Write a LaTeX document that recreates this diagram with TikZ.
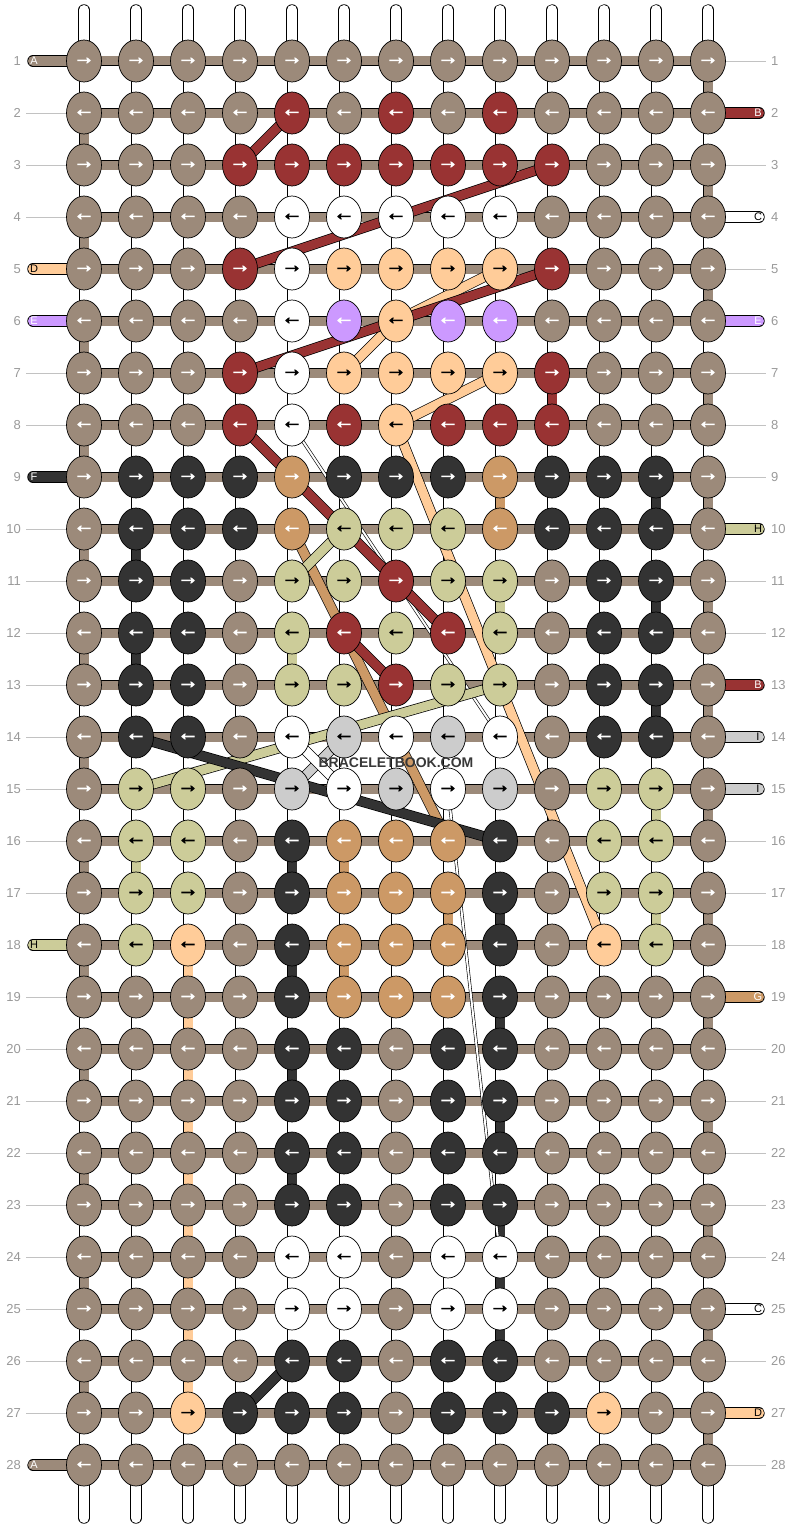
\documentclass[tikz,border=0pt]{standalone}
\usepackage{fontspec}
\setmainfont{Liberation Sans}
\newfontfamily\fontsageata[FakeBold=3]{Liberation Sans}
\usepackage{tikz}
\usetikzlibrary{shapes.geometric, backgrounds}

\definecolor{cb}{HTML}{9C8A7A}
\definecolor{cr}{HTML}{993333}
\definecolor{cw}{HTML}{FFFFFF}
\definecolor{cp}{HTML}{FFCC99}
\definecolor{cl}{HTML}{CC99FF}
\definecolor{ck}{HTML}{333333}
\definecolor{ct}{HTML}{CC9966}
\definecolor{ch}{HTML}{CCCC99}
\definecolor{cg}{HTML}{CCCCCC}
\colorlet{sb}{white}
\colorlet{sr}{white}
\colorlet{sk}{white}
\colorlet{st}{white}
\colorlet{sl}{white}
\colorlet{sw}{black}
\colorlet{sp}{black}
\colorlet{sh}{black}
\colorlet{sg}{black}
\definecolor{gricifra}{HTML}{999999}

\begin{document}
\begin{tikzpicture}[x=1pt, y=-1pt]
        \tikzstyle{every node} = [inner sep=0pt]
        \tikzstyle{nod}        = [ellipse, draw, line width=0.7pt, minimum width=35pt, minimum height=42pt, font=\fontsageata\bfseries\fontsize{21}{21}\selectfont]
        \tikzstyle{leg}        = [draw=black, line width=0.7pt, double distance=9pt]
        \tikzstyle{miez}       = [draw=black!22, line width=0.6pt, double=white, double distance=1.6pt]
        \tikzstyle{capat}      = [draw=black, line width=0.7pt, double distance=10pt, line cap=round]
        \tikzstyle{fir}        = [draw=black, line width=0.7pt, double distance=9pt]
        \tikzstyle{firsubtire} = [draw=black, line width=0.6pt, double=white, double distance=2pt]
        \tikzstyle{litera}     = [font=\fontsize{11}{11}\selectfont]
        \tikzstyle{cifra}      = [text=gricifra, font=\fontsize{13}{13}\selectfont]
        \tikzstyle{linie}      = [draw=gricifra!60, line width=0.6pt]

        \useasboundingbox (0,0) rectangle (792,1528);
        \def\pas{52}
        \def\xst{84}
        \def\ysus{61}

        % Desenarea nodurilor.
        \foreach \r/\linie in {
             1/{b,b,b,b,b,b,b,b,b,b,b,b,b},  2/{b,b,b,b,r,b,r,b,r,b,b,b,b},
             3/{b,b,b,r,r,r,r,r,r,r,b,b,b},  4/{b,b,b,b,w,w,w,w,w,b,b,b,b},
             5/{b,b,b,r,w,p,p,p,p,r,b,b,b},  6/{b,b,b,b,w,l,p,l,l,b,b,b,b},
             7/{b,b,b,r,w,p,p,p,p,r,b,b,b},  8/{b,b,b,r,w,r,p,r,r,r,b,b,b},
             9/{b,k,k,k,t,k,k,k,t,k,k,k,b}, 10/{b,k,k,k,t,h,h,h,t,k,k,k,b},
            11/{b,k,k,b,h,h,r,h,h,b,k,k,b}, 12/{b,k,k,b,h,r,h,r,h,b,k,k,b},
            13/{b,k,k,b,h,h,r,h,h,b,k,k,b}, 14/{b,k,k,b,w,g,w,g,w,b,k,k,b},
            15/{b,h,h,b,g,w,g,w,g,b,h,h,b}, 16/{b,h,h,b,k,t,t,t,k,b,h,h,b},
            17/{b,h,h,b,k,t,t,t,k,b,h,h,b}, 18/{b,h,p,b,k,t,t,t,k,b,p,h,b},
            19/{b,b,b,b,k,t,t,t,k,b,b,b,b}, 20/{b,b,b,b,k,k,b,k,k,b,b,b,b},
            21/{b,b,b,b,k,k,b,k,k,b,b,b,b}, 22/{b,b,b,b,k,k,b,k,k,b,b,b,b},
            23/{b,b,b,b,k,k,b,k,k,b,b,b,b}, 24/{b,b,b,b,w,w,b,w,w,b,b,b,b},
            25/{b,b,b,b,w,w,b,w,w,b,b,b,b}, 26/{b,b,b,b,k,k,b,k,k,b,b,b,b},
            27/{b,b,p,k,k,k,b,k,k,k,p,b,b}, 28/{b,b,b,b,b,b,b,b,b,b,b,b,b}} {
            \foreach \k [count=\c] in \linie {
                \node[nod, fill=c\k, text=s\k] (k-\r-\c) at ({\xst+\pas*(\c-1)}, {\ysus+\pas*(\r-1)})
                    {\ifodd\r →\else ←\fi};
            }
        }

        \begin{pgfonlayer}{background}
            % Firele verticale.
            \foreach \c in {1,...,13} {
                \coordinate (sus-\c) at ({\xst+\pas*(\c-1)}, 10);
                \coordinate (jos-\c) at ({\xst+\pas*(\c-1)}, 1518);
                \draw[capat, double=white] (k-1-\c.center) -- (sus-\c);
                \draw[miez] (k-1-\c.center) -- (sus-\c);
                \draw[capat, double=white] (k-28-\c.center) -- (jos-\c);
                \draw[miez] (k-28-\c.center) -- (jos-\c);
                \foreach \r in {1,...,27} {
                    \pgfmathtruncatemacro\rr{\r+1}
                    \draw[leg, double=white] (k-\r-\c.center) -- (k-\rr-\c.center);
                    \draw[miez] (k-\r-\c.center) -- (k-\rr-\c.center);
                }
            }
            \foreach \c/\r/\k in {2/10/k, 2/12/k, 2/16/h, 5/12/h, 5/16/k, 5/18/k, 5/20/k, 5/22/k,
                                  6/16/t, 6/18/t, 8/17/t, 9/9/t, 9/11/h, 9/17/k, 9/19/k, 9/21/k,
                                  9/23/k, 9/24/k, 9/25/k, 10/7/r, 12/9/k, 12/11/k, 12/13/k,
                                  12/15/h, 12/17/h, 3/18/p, 3/19/p, 3/20/p, 3/21/p, 3/22/p,
                                  3/23/p, 3/24/p, 3/25/p, 3/26/p} {
                \pgfmathtruncatemacro\rr{\r+1}
                \draw[leg, double=c\k] (k-\r-\c.center) -- (k-\rr-\c.center);
            }
            \foreach \r in {2,4,...,26} {
                \pgfmathtruncatemacro\rr{\r+1}
                \draw[leg, double=cb] (k-\r-1.center) -- (k-\rr-1.center);
            }
            \foreach \r in {1,3,...,27} {
                \pgfmathtruncatemacro\rr{\r+1}
                \draw[leg, double=cb] (k-\r-13.center) -- (k-\rr-13.center);
            }

            % Firul de baza pe randuri.
            \foreach \r in {1,...,28} {
                \foreach \c in {1,...,12} {
                    \pgfmathtruncatemacro\cc{\c+1}
                    \draw[leg, double=cb] (k-\r-\c.center) -- (k-\r-\cc.center);
                }
            }

            % Capetele firelor.
            \foreach \r/\k/\lit in {1/b/A, 5/p/D, 6/l/E, 9/k/F, 18/h/H, 28/b/A} {
                \coordinate (cst-\r) at (33, {\ysus+\pas*(\r-1)});
                \draw[capat, double=c\k] (k-\r-1.center) -- (cst-\r);
                \node[litera, text=s\k] (lit-st-\r) at (34, {\ysus+\pas*(\r-1)}) {\lit};
            }
            \foreach \r/\k/\lit in {2/r/B, 4/w/C, 6/l/E, 10/h/H, 13/r/B, 14/g/I, 15/g/I, 19/t/G, 25/w/C, 27/p/D} {
                \coordinate (cdr-\r) at (759, {\ysus+\pas*(\r-1)});
                \draw[capat, double=c\k] (k-\r-13.center) -- (cdr-\r);
                \node[litera, text=s\k] (lit-dr-\r) at (758, {\ysus+\pas*(\r-1)}) {\lit};
            }

            % Firele care trec in diagonala.
            \draw[firsubtire] (k-8-5.center) -- (k-14-9.center);
            \draw[firsubtire] (k-15-8.center) -- (k-24-9.center);
            \foreach \a/\b/\c/\d/\k in {10/5/16/8/t, 8/7/18/11/p, 5/9/6/7/p, 6/7/7/6/p, 7/9/8/7/p,
                                        2/5/3/4/r, 3/10/5/4/r, 5/10/7/4/r, 8/4/11/7/r, 11/7/12/8/r,
                                        12/6/13/7/r, 10/6/11/5/h, 13/9/15/2/h, 14/2/16/9/k,
                                        27/4/26/5/k, 14/6/15/5/g, 14/5/15/6/w} {
                \draw[fir, double=c\k] (k-\a-\b.center) -- (k-\c-\d.center);
            }
        \end{pgfonlayer}

        % Numerele randurilor.
        \foreach \r in {1,...,28} {
            \node[cifra, anchor=east] (nst-\r) at (21, {\ysus+\pas*(\r-1)}) {\r};
            \node[cifra, anchor=west] (ndr-\r) at (771, {\ysus+\pas*(\r-1)}) {\r};
        }
        \foreach \r in {2,3,4,7,8,10,11,12,13,14,15,16,17,19,20,21,22,23,24,25,26,27} {
            \coordinate (lin-st-\r) at (26, {\ysus+\pas*(\r-1)});
            \draw[linie] (lin-st-\r) -- (k-\r-1);
        }
        \foreach \r in {1,3,5,7,8,9,11,12,16,17,18,20,21,22,23,24,26,28} {
            \coordinate (lin-dr-\r) at (766, {\ysus+\pas*(\r-1)});
            \draw[linie] (k-\r-13) -- (lin-dr-\r);
        }

        \node[font=\bfseries\fontsize{14}{14}\selectfont, text=black!78] (marca) at (396,763) {BRACELETBOOK.COM};
    \end{tikzpicture}
\end{document}
